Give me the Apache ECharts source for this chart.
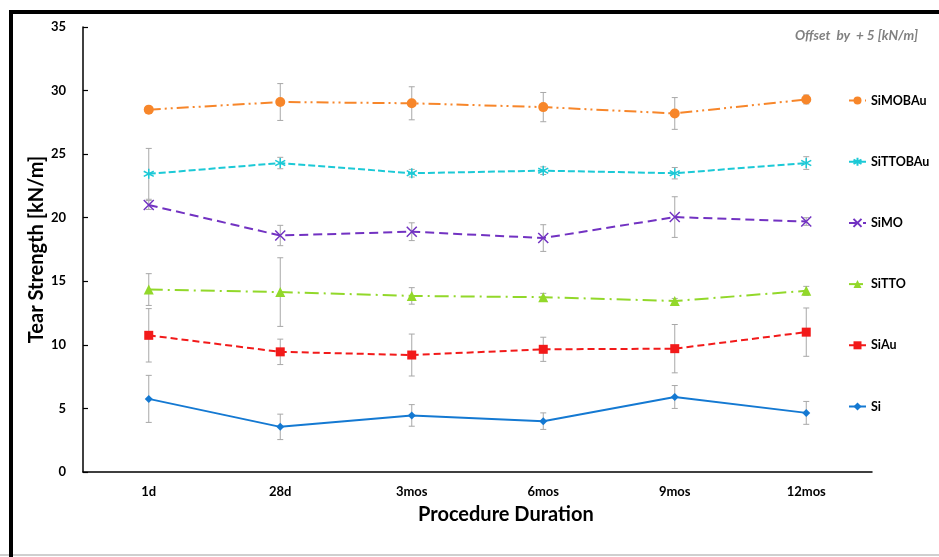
<!DOCTYPE html>
<html>
<head>
<meta charset="utf-8">
<script src="https://cdn.jsdelivr.net/npm/echarts@6/dist/echarts.min.js"></script>
<style>
html,body{margin:0;padding:0;background:#fff;}
#chart{width:939px;height:557px;}
</style>
</head>
<body>
<div id="chart"></div>
<script>
// ---- data ----
var categories = ['1d', '28d', '3mos', '6mos', '9mos', '12mos'];
var seriesNames = ['SiMOBAu', 'SiTTOBAu', 'SiMO', 'SiTTO', 'SiAu', 'Si'];
var SiMOBAu = [28.5, 29.1, 29.0, 28.7, 28.2, 29.3];
var SiMOBAuErr = [0.2, 1.45, 1.3, 1.15, 1.25, 0.35];
var SiTTOBAu = [23.45, 24.3, 23.5, 23.7, 23.5, 24.3];
var SiTTOBAuErr = [2.0, 0.45, 0.3, 0.3, 0.45, 0.5];
var SiMO = [21.0, 18.6, 18.9, 18.4, 20.05, 19.7];
var SiMOErr = [0.35, 0.8, 0.7, 1.05, 1.6, 0.3];
var SiTTO = [14.35, 14.15, 13.85, 13.75, 13.45, 14.25];
var SiTTOErr = [1.25, 2.7, 0.65, 0.3, 0.2, 0.35];
var SiAu = [10.75, 9.45, 9.2, 9.65, 9.7, 11.0];
var SiAuErr = [2.1, 1.0, 1.65, 0.95, 1.9, 1.9];
var Si = [5.75, 3.55, 4.45, 4.0, 5.9, 4.65];
var SiErr = [1.85, 1.0, 0.85, 0.65, 0.9, 0.9];
var yTicks = {min: 0, max: 35, interval: 5};

var values = [SiMOBAu, SiTTOBAu, SiMO, SiTTO, SiAu, Si];
var errors = [SiMOBAuErr, SiTTOBAuErr, SiMOErr, SiTTOErr, SiAuErr, SiErr];
var colors = ['#F7862A', '#1CC9D6', '#7232C2', '#92D82A', '#F21A1A', '#1479D2'];
var dashes = [[12,4,2,4,2,4], [7,3], [9,5], [14,5,2,5], [7,4], 'solid'];
var symbols = [
  'circle',
  'path://M0,-5L0,5M-4.5,-2.6L4.5,2.6M-4.5,2.6L4.5,-2.6',
  'path://M-4,-4L4,4M-4,4L4,-4',
  'triangle',
  'rect',
  'diamond'
];
var symbolSizes = [10, 10, 10, 10, 9, 8];

var FONT = 'Lato';
var series = [];
// error bars
values.forEach(function (vals, si) {
  var errData = vals.map(function (v, i) { return [i, v - errors[si][i], v + errors[si][i]]; });
  series.push({
    type: 'custom',
    name: seriesNames[si] + '_err',
    silent: true,
    z: 1,
    data: errData,
    renderItem: function (params, api) {
      var x = api.value(0);
      var lo = api.coord([x, api.value(1)]);
      var hi = api.coord([x, api.value(2)]);
      var cap = 3;
      var st = {stroke: '#A8A8A8', lineWidth: 1};
      return {
        type: 'group',
        children: [
          {type: 'line', shape: {x1: lo[0], y1: lo[1], x2: hi[0], y2: hi[1]}, style: st},
          {type: 'line', shape: {x1: lo[0]-cap, y1: lo[1], x2: lo[0]+cap, y2: lo[1]}, style: st},
          {type: 'line', shape: {x1: hi[0]-cap, y1: hi[1], x2: hi[0]+cap, y2: hi[1]}, style: st}
        ]
      };
    }
  });
});
values.forEach(function (vals, si) {
  var isPath = symbols[si].indexOf('path://') === 0;
  series.push({
    type: 'line',
    name: seriesNames[si],
    data: vals,
    z: 3,
    symbol: symbols[si],
    symbolSize: symbolSizes[si],
    showAllSymbol: true,
    lineStyle: {color: colors[si], width: 2, type: dashes[si]},
    itemStyle: {color: colors[si], borderColor: colors[si], borderWidth: isPath ? 1.5 : 0},
    emphasis: {disabled: true},
    animation: false
  });
});

var chart = echarts.init(document.getElementById('chart'), null, {renderer: 'canvas'});
chart.setOption({
  animation: false,
  backgroundColor: '#fff',
  grid: {left: 83, right: 67, top: 27, bottom: 85, containLabel: false},
  legend: {
    data: seriesNames,
    orient: 'vertical',
    left: 843,
    top: 89,
    padding: 5,
    itemGap: 48.2,
    itemWidth: 17,
    itemHeight: 10,
    textStyle: {fontFamily: FONT, fontWeight: 'bold', fontSize: 12.5, color: '#000'},
    selectedMode: false
  },
  xAxis: {
    type: 'category',
    data: categories,
    boundaryGap: true,
    axisLine: {lineStyle: {color: '#000', width: 1.5}},
    axisTick: {inside: true, alignWithLabel: true, length: 5, lineStyle: {color: '#000', width: 1.2}},
    axisLabel: {fontFamily: FONT, fontWeight: 'bold', fontSize: 13, color: '#000', margin: 13},
    splitLine: {show: false}
  },
  yAxis: {
    type: 'value',
    min: yTicks.min, max: yTicks.max, interval: yTicks.interval,
    name: 'Tear Strength [kN/m]',
    nameLocation: 'middle',
    nameGap: 36,
    nameMoveOverlap: false,
    nameTextStyle: {fontFamily: FONT, fontWeight: 'bold', fontSize: 20, color: '#000'},
    axisLine: {show: true, lineStyle: {color: '#000', width: 1.5}},
    axisTick: {show: true, inside: true, length: 5, lineStyle: {color: '#000', width: 1.2}},
    axisLabel: {fontFamily: FONT, fontWeight: 'bold', fontSize: 13, color: '#000', margin: 17},
    splitLine: {show: false}
  },
  graphic: [
    {type: 'rect', shape: {x: 11, y: 12, width: 960, height: 600}, style: {fill: 'none', stroke: '#000', lineWidth: 4}, z: 100, silent: true},
    {type: 'line', shape: {x1: 0, y1: 555, x2: 939, y2: 555}, style: {stroke: '#CFCFCF', lineWidth: 2}, z: 99, silent: true},
    {type: 'text', left: 418, top: 505, style: {text: 'Procedure Duration', fontFamily: FONT, fontWeight: 'bold', fontSize: 20, fill: '#000'}},
    {type: 'text', right: 21, top: 29, style: {text: 'Offset  by  + 5 [kN/m]', fontFamily: FONT, fontStyle: 'italic', fontWeight: 'bold', fontSize: 13.5, fill: '#808080'}}
  ],
  series: series
});
</script>
</body>
</html>
